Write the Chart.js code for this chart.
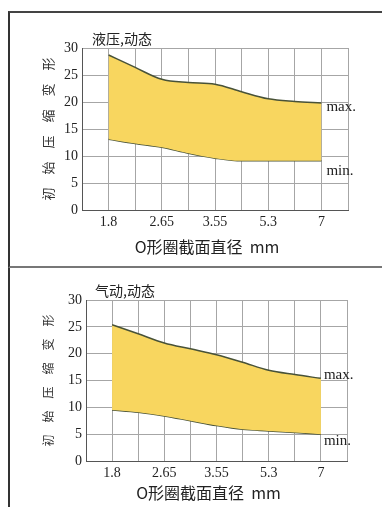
<!DOCTYPE html>
<html lang="zh">
<head>
  <meta charset="UTF-8" />
  <title>O形圈初始压缩变形</title>
  <script src="https://cdn.jsdelivr.net/npm/chart.js@4.4.0/dist/chart.umd.min.js"></script>
  <style>
    body { margin: 0; background: #fff; width: 382px; height: 507px; overflow: hidden; position: relative; }
    .frame { position: absolute; left: 8px; right: 0; border-left: 2px solid #333; }
    #frame-top { top: 11px; height: 253px; border-top: 2px solid #444; border-bottom: 2px solid #777; }
    #frame-bottom { top: 268px; bottom: 0; }
    canvas { position: absolute; left: 0; }
    #chart-top { top: 0; }
    #chart-bottom { top: 268px; }
  </style>
</head>

<body>
  <div class="frame" id="frame-top"></div>
  <div class="frame" id="frame-bottom"></div>
  <canvas id="chart-top" width="382" height="266"></canvas>
  <canvas id="chart-bottom" width="382" height="239"></canvas>

<script>
  // data
  const sizeLabels = ['1.8', '2.65', '3.55', '5.3', '7'];
  // positions along the x axis, in category steps (0 = 1.8 ... 4 = 7)
  const xPos = [0, 0.5, 1, 1.5, 2, 2.5, 3, 3.5, 4];
  const hydraulicMax = [28.7, 26.4, 24.2, 23.6, 23.3, 21.9, 20.6, 20.1, 19.8];
  const hydraulicMin = [13.1, 12.3, 11.6, 10.5, 9.6, 9.1, 9.1, 9.1, 9.1];
  const pneumaticMax = [25.4, 23.7, 22.0, 20.9, 19.8, 18.4, 16.9, 16.1, 15.4];
  const pneumaticMin = [9.5, 9.1, 8.4, 7.5, 6.6, 5.9, 5.6, 5.3, 5.0];
  const yMax = 30;
  const yStep = 5;

  // trailing full-width space nudges the centred title a bit to the left
  const xTitle = 'O形圈截面直径  mm　';
  const yTitle = '初　始　压　缩　变　形';

  const numFont = { family: '"Liberation Serif", serif', size: 14 };
  const cjkFont = '"Noto Sans CJK SC", sans-serif';

  // panel title + max./min. labels
  const annot = {
    id: 'annot',
    afterDatasetsDraw(chart, args, opts) {
      const { ctx, chartArea, scales: { x, y } } = chart;
      ctx.save();
      ctx.fillStyle = '#222';
      ctx.textBaseline = 'alphabetic';
      ctx.textAlign = 'left';
      ctx.font = '14px ' + cjkFont;
      ctx.fillText(opts.title, chartArea.left + opts.titleDx, chartArea.top - opts.titleDy);
      ctx.font = '15px "Liberation Serif", serif';
      const endX = x.getPixelForValue(xPos[xPos.length - 1]);
      ctx.fillText('max.', endX + opts.labelDx, y.getPixelForValue(opts.maxVals[opts.maxVals.length - 1]) + opts.maxDy);
      ctx.fillText('min.', endX + opts.labelDx, y.getPixelForValue(opts.minVals[opts.minVals.length - 1]) + opts.minDy);
      ctx.restore();
    }
  };

  function makeChart(id, title, maxVals, minVals, lay) {
    return new Chart(document.getElementById(id).getContext('2d'), {
      type: 'line',
      data: {
        datasets: [{
            label: 'max.',
            data: xPos.map((v, i) => ({ x: v, y: maxVals[i] })),
            borderColor: '#485238',
            backgroundColor: '#f8d65f',
            borderWidth: 1.5,
            pointRadius: 0,
            cubicInterpolationMode: 'monotone',
            fill: '+1'
          },
          {
            label: 'min.',
            data: xPos.map((v, i) => ({ x: v, y: minVals[i] })),
            borderColor: '#485238',
            borderWidth: 1.5,
            pointRadius: 0,
            cubicInterpolationMode: 'monotone',
            fill: false
          }
        ]
      },
      options: {
        responsive: false,
        animation: false,
        layout: { padding: lay.padding },
        plugins: {
          legend: { display: false },
          tooltip: { enabled: false },
          annot: Object.assign({ title: title, maxVals: maxVals, minVals: minVals }, lay.annot)
        },
        scales: {
          x: {
            type: 'linear',
            min: -0.5,
            max: 4.5,
            afterFit: (s) => { s.height = lay.xHeight; },
            grid: { color: '#a6a6a6', drawTicks: false },
            border: { color: '#555' },
            ticks: {
              stepSize: 0.5,
              autoSkip: false,
              maxRotation: 0,
              padding: lay.xTickPad,
              color: '#222',
              font: numFont,
              callback: (v) => Number.isInteger(v) ? sizeLabels[v] : ''
            },
            title: { display: true, text: xTitle, color: '#222', padding: 0, font: { family: cjkFont, size: 16 } }
          },
          y: {
            min: 0,
            max: yMax,
            afterFit: (s) => { s.width = lay.yWidth; },
            grid: { color: '#a6a6a6', drawTicks: false },
            border: { color: '#555' },
            ticks: { stepSize: yStep, padding: 4, color: '#222', font: numFont },
            title: { display: true, text: yTitle, color: '#333', padding: 0, font: { family: cjkFont, size: lay.yTitleSize } }
          }
        }
      },
      plugins: [annot]
    });
  }

  makeChart('chart-top', '液压,动态', hydraulicMax, hydraulicMin, {
    padding: { left: 40, right: 34, top: 48, bottom: 9 },
    yWidth: 42,
    xHeight: 47,
    xTickPad: 4,
    yTitleSize: 13,
    annot: { titleDx: 10, titleDy: 4, labelDx: 5, maxDy: 8, minDy: 14 }
  });

  makeChart('chart-bottom', '气动,动态', pneumaticMax, pneumaticMin, {
    padding: { left: 41, right: 35, top: 32, bottom: 4 },
    yWidth: 45,
    xHeight: 42,
    xTickPad: 4,
    yTitleSize: 12,
    annot: { titleDx: 9, titleDy: 4, labelDx: 3, maxDy: 1, minDy: 11 }
  });
</script>
</body>

</html>
